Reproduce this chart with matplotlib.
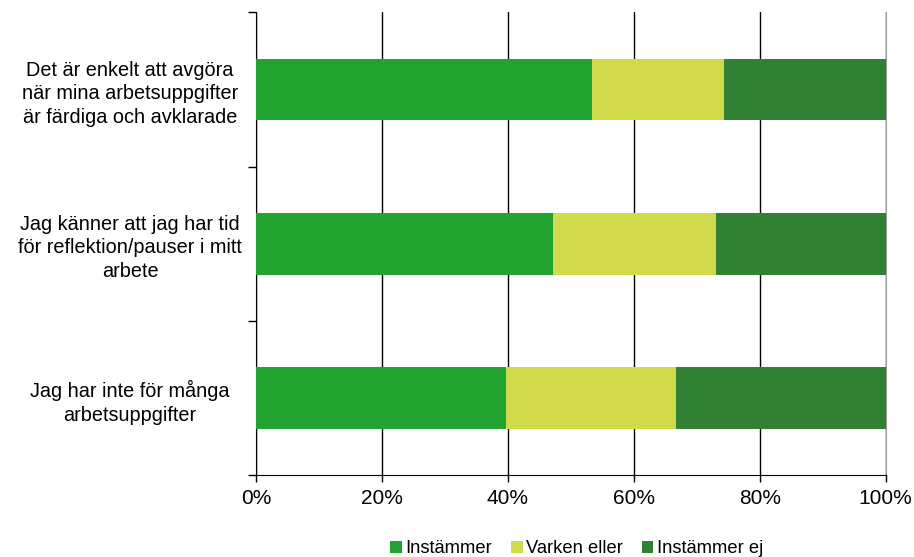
import matplotlib
matplotlib.use("Agg")
import matplotlib.pyplot as plt
from matplotlib.ticker import FixedLocator, PercentFormatter
import numpy as np

plt.rcParams['font.family'] = ['Liberation Sans', 'DejaVu Sans']

categories = [
    "Det är enkelt att avgöra\nnär mina arbetsuppgifter\när färdiga och avklarade",
    "Jag känner att jag har tid\nför reflektion/pauser i mitt\narbete",
    "Jag har inte för många\narbetsuppgifter",
]
series_names = ["Instämmer", "Varken eller", "Instämmer ej"]
instammer = [53.3, 47.1, 39.7]
varken_eller = [21.0, 25.9, 27.0]
instammer_ej = [25.7, 27.0, 33.3]
colors = ["#21a231", "#d0da4b", "#328033"]
x_ticks = [0, 20, 40, 60, 80, 100]

fig = plt.figure(figsize=(9.14, 5.57), dpi=100)
ax = fig.add_axes([0.280, 0.147, 0.689, 0.831])

y = np.arange(len(categories))
left = np.zeros(len(categories))
for name, vals, c in zip(series_names, [instammer, varken_eller, instammer_ej], colors):
    ax.barh(y, vals, left=left, height=0.4, color=c, label=name, zorder=3)
    left += np.array(vals)

ax.set_xlim(0, 100)
ax.set_ylim(len(categories) - 0.5, -0.5)
ax.set_xticks(x_ticks)
ax.xaxis.set_major_formatter(PercentFormatter(decimals=0))
ax.grid(axis='x', color='black', linewidth=1, zorder=0)
ax.tick_params(axis='x', direction='out', length=5, width=1, labelsize=15, pad=5, color='black')

ax.set_yticks(y)
ax.set_yticklabels(categories, ha='center', multialignment='center', fontsize=14.3,
                   linespacing=1.3)
ax.tick_params(axis='y', which='major', length=0, pad=90.7)
ax.yaxis.set_minor_locator(FixedLocator(np.arange(-0.5, len(categories), 1.0)))
ax.tick_params(axis='y', which='minor', direction='out', length=6, width=1, color='black')

ax.spines['top'].set_visible(False)
ax.spines['right'].set_color('#a0a0a0')
ax.spines['left'].set_color('black')
ax.spines['bottom'].set_color('black')

fig.legend(loc='lower center', bbox_to_anchor=(0.631, -0.014), ncol=3, frameon=False,
           fontsize=13.2, handlelength=0.65, handleheight=0.65, handletextpad=0.2,
           columnspacing=1.0, borderaxespad=0)

fig.savefig("out.png", dpi=100)
